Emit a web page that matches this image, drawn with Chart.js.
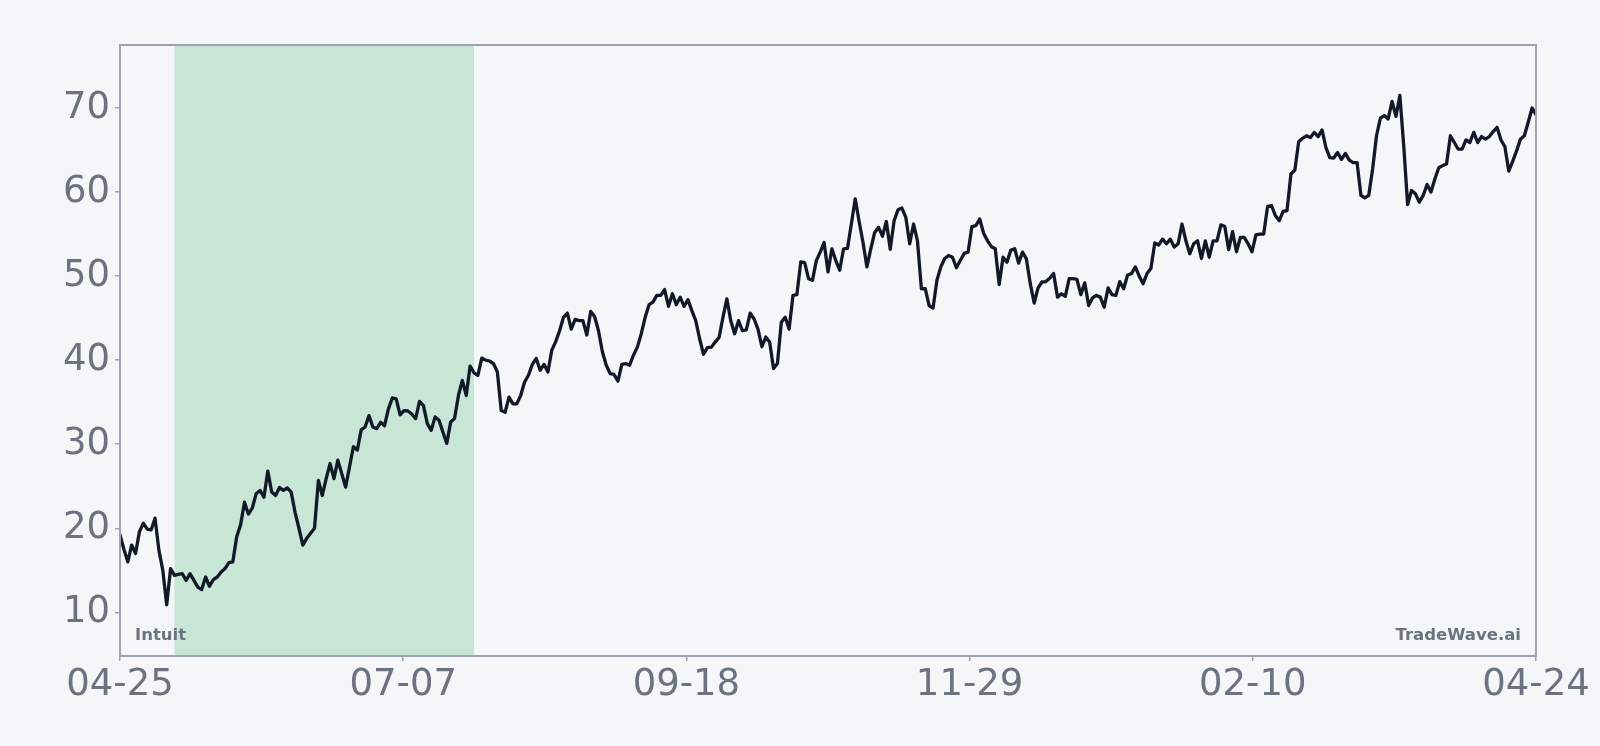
<!DOCTYPE html>
<html>
<head>
<meta charset="utf-8">
<script src="https://cdn.jsdelivr.net/npm/chart.js@4.4.0/dist/chart.umd.min.js"></script>
<style>
  html, body { margin: 0; padding: 0; background: #f4f6f8; }
  #wrap { width: 1600px; height: 746px; }
</style>
</head>
<body>
<div id="wrap"><canvas id="priceChart" width="1600" height="746"></canvas></div>
<script>
// daily closes, 04-25 .. 04-24 (day index 0..364)
const prices = [
  19.2, 17.5, 16.0, 18.0, 17.0, 19.6, 20.6, 19.9, 19.8, 21.2,
  17.4, 15.0, 10.9, 15.2, 14.4, 14.5, 14.6, 13.8, 14.6, 13.8,
  13.0, 12.7, 14.2, 13.1, 13.9, 14.2, 14.8, 15.2, 15.9, 16.0,
  19.0, 20.4, 23.1, 21.7, 22.4, 24.1, 24.5, 23.7, 26.8, 24.3,
  23.9, 24.85, 24.5, 24.8, 24.3, 21.9, 20.0, 18.0, 18.8, 19.4,
  20.0, 25.7, 23.9, 25.9, 27.7, 25.9, 28.1, 26.5, 24.9, 27.3,
  29.7, 29.3, 31.7, 32.05, 33.4, 32.05, 31.85, 32.6, 32.2, 34.2,
  35.5, 35.4, 33.5, 34.0, 33.95, 33.6, 33.05, 35.1, 34.6, 32.45,
  31.65, 33.25, 32.85, 31.45, 30.1, 32.65, 33.05, 35.8, 37.6, 35.8,
  39.3, 38.5, 38.2, 40.25, 40.0, 39.9, 39.6, 38.6, 34.0, 33.8,
  35.6, 34.8, 34.8, 35.8, 37.4, 38.2, 39.5, 40.2, 38.8, 39.5,
  38.6, 41.2, 42.2, 43.5, 45.1, 45.6, 43.7, 44.85, 44.7, 44.7,
  43.0, 45.8, 45.2, 43.5, 41.0, 39.4, 38.4, 38.3, 37.5, 39.5,
  39.6, 39.4, 40.6, 41.55, 43.15, 45.1, 46.6, 46.9, 47.7, 47.7,
  48.4, 46.4, 47.9, 46.6, 47.5, 46.4, 47.2, 45.9, 44.7, 42.55,
  40.7, 41.5, 41.55, 42.15, 42.7, 45.1, 47.3, 44.7, 43.15, 44.7,
  43.5, 43.6, 45.6, 44.9, 43.7, 41.6, 42.75, 42.15, 39.0, 39.6,
  44.5, 45.1, 43.7, 47.7, 47.8, 51.7, 51.6, 49.7, 49.5, 51.85,
  52.85, 54.0, 50.5, 53.25, 51.85, 50.7, 53.25, 53.3, 56.2, 59.2,
  56.5, 54.0, 51.1, 53.25, 55.2, 55.8, 54.75, 56.5, 53.2, 56.6,
  57.9, 58.1, 57.0, 53.85, 56.2, 54.2, 48.5, 48.5, 46.5, 46.2,
  49.5, 51.1, 52.1, 52.45, 52.25, 51.0, 51.85, 52.7, 52.85, 55.9,
  56.0, 56.8, 55.1, 54.2, 53.5, 53.25, 49.0, 52.25, 51.65, 53.1,
  53.25, 51.55, 52.85, 52.05, 49.1, 46.8, 48.6, 49.3, 49.35, 49.75,
  50.3, 47.5, 47.9, 47.6, 49.7, 49.7, 49.6, 47.8, 49.2, 46.5,
  47.4, 47.7, 47.5, 46.3, 48.6, 47.8, 47.7, 49.35, 48.5, 50.1,
  50.3, 51.1, 50.0, 49.1, 50.3, 50.9, 53.95, 53.7, 54.4, 53.85,
  54.4, 53.45, 53.85, 56.2, 54.2, 52.65, 53.85, 54.2, 52.1, 54.2,
  52.25, 54.2, 54.2, 56.1, 55.9, 53.15, 55.3, 52.9, 54.6, 54.6,
  53.85, 52.9, 54.9, 55.0, 55.0, 58.3, 58.4, 57.2, 56.6, 57.7,
  57.8, 62.15, 62.6, 66.0, 66.4, 66.7, 66.5, 67.1, 66.6, 67.4,
  65.3, 64.1, 64.05, 64.7, 63.9, 64.6, 63.8, 63.5, 63.5, 59.6,
  59.3, 59.6, 62.75, 66.7, 68.8, 69.1, 68.7, 70.8, 69.0, 71.5,
  65.5, 58.5, 60.2, 59.8, 58.8, 59.6, 60.9, 60.0, 61.55, 62.9,
  63.15, 63.35, 66.7, 65.9, 65.1, 65.1, 66.2, 65.9, 67.1, 65.9,
  66.6, 66.3, 66.6, 67.2, 67.7, 66.2, 65.4, 62.5, 63.65, 64.9,
  66.3, 66.7, 68.3, 70.0, 69.2
];

const tickDays = [0, 72.8, 145.6, 218.4, 291.2, 364];
const tickLabels = ['04-25', '07-07', '09-18', '11-29', '02-10', '04-24'];
const yTicks = [10, 20, 30, 40, 50, 60, 70];
const highlight = [14, 91]; // shaded window, day index
const seriesName = 'Intuit';
const sourceName = 'TradeWave.ai';

const axisColor = '#9ca3af';
const labelColor = '#6b7280';
const fontFamily = '"DejaVu Sans", sans-serif';

const bandPlugin = {
  id: 'band',
  beforeDatasetsDraw(chart) {
    const { ctx, chartArea: a, scales: { x } } = chart;
    const x0 = x.getPixelForValue(highlight[0]);
    const x1 = x.getPixelForValue(highlight[1]);
    ctx.save();
    ctx.fillStyle = '#c8e6d5';
    ctx.fillRect(x0, a.top, x1 - x0, a.bottom - a.top);
    ctx.restore();
  },
  afterDatasetsDraw(chart) {
    const { ctx, chartArea: a } = chart;
    ctx.save();
    ctx.strokeStyle = axisColor;
    ctx.lineWidth = 2;
    ctx.strokeRect(a.left, a.top, a.right - a.left, a.bottom - a.top);
    ctx.fillStyle = labelColor;
    ctx.font = 'bold 16.5px ' + fontFamily;
    ctx.textBaseline = 'alphabetic';
    ctx.textAlign = 'left';
    ctx.fillText(seriesName, a.left + 15, a.bottom - 16);
    ctx.textAlign = 'right';
    ctx.fillText(sourceName, a.right - 15, a.bottom - 16);
    ctx.restore();
  }
};

new Chart(document.getElementById('priceChart'), {
  type: 'line',
  data: {
    datasets: [{
      label: seriesName,
      data: prices.map((p, i) => ({ x: i, y: p })),
      borderColor: '#111827',
      borderWidth: 3.3,
      borderJoinStyle: 'round',
      borderCapStyle: 'round',
      pointRadius: 0,
      tension: 0,
      fill: false
    }]
  },
  options: {
    responsive: false,
    animation: false,
    devicePixelRatio: 1,
    layout: { padding: { top: 45, right: 64, left: 0, bottom: 0 } },
    plugins: { legend: { display: false }, tooltip: { enabled: false } },
    scales: {
      x: {
        type: 'linear',
        min: 0,
        max: 364,
        afterBuildTicks: s => { s.ticks = tickDays.map(v => ({ value: v })); },
        afterFit: s => { s.height = 90; },
        ticks: {
          callback: (v, i) => tickLabels[i],
          color: labelColor,
          font: { family: fontFamily, size: 37 },
          padding: 2,
          maxRotation: 0,
          autoSkip: false
        },
        grid: { drawOnChartArea: false, tickLength: 5, color: axisColor, lineWidth: 1.5 },
        border: { display: false }
      },
      y: {
        min: 4.8,
        max: 77.5,
        afterBuildTicks: s => { s.ticks = yTicks.map(v => ({ value: v })); },
        afterFit: s => { s.width = 120; },
        ticks: {
          color: labelColor,
          font: { family: fontFamily, size: 37 },
          padding: 5
        },
        grid: { drawOnChartArea: false, tickLength: 5, color: axisColor, lineWidth: 1.5 },
        border: { display: false }
      }
    }
  },
  plugins: [bandPlugin]
});
</script>
</body>
</html>
